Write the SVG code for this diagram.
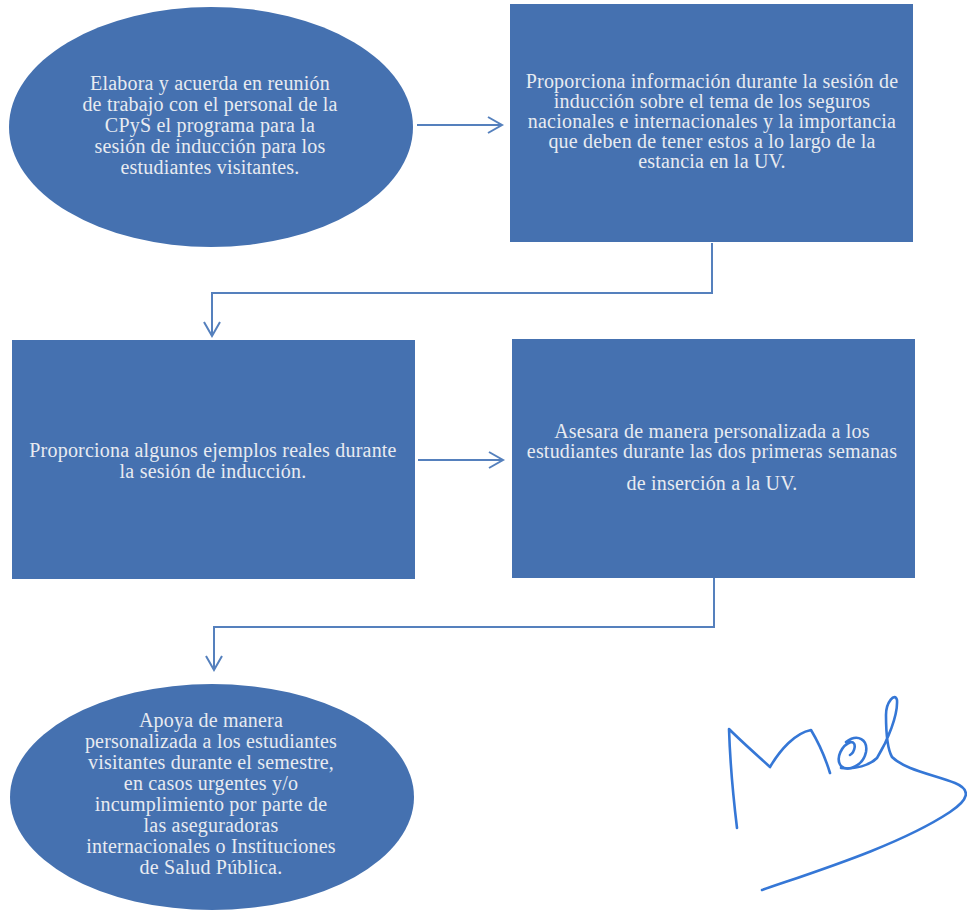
<svg xmlns="http://www.w3.org/2000/svg" width="967" height="914" viewBox="0 0 967 914">
<style>
.shape{fill:#4571b0;}
.lbl{font-family:'Liberation Serif','DejaVu Serif','Times New Roman',serif;font-size:20px;fill:#e8ebf1;text-anchor:middle;letter-spacing:0.2px;}
.conn{fill:none;stroke:#5580bd;stroke-width:2;}
.sig{fill:none;stroke:#3577d6;stroke-width:2.6;stroke-linecap:round;stroke-linejoin:round;}
</style>
<defs>
<marker id="arr" viewBox="0 0 14 16" refX="14" refY="8" markerWidth="14" markerHeight="16" markerUnits="userSpaceOnUse" orient="auto" overflow="visible">
<path d="M0,0 L14,8 L0,16" fill="none" stroke="#5580bd" stroke-width="2"/>
</marker>
</defs>
<rect width="967" height="914" fill="#ffffff"/>
<g id="n1">
<ellipse class="shape" cx="211" cy="127" rx="202" ry="120"/>
<text class="lbl" font-family="Liberation Serif, serif"><tspan x="210" y="90">Elabora y acuerda en reunión</tspan><tspan x="210" y="111">de trabajo con el personal de la</tspan><tspan x="210" y="132">CPyS el programa para la</tspan><tspan x="210" y="153">sesión de inducción para los</tspan><tspan x="210" y="174">estudiantes visitantes.</tspan></text>
</g>
<g id="n2">
<rect class="shape" x="510" y="4" width="403" height="238"/>
<text class="lbl" font-family="Liberation Serif, serif"><tspan x="712" y="88">Proporciona información durante la sesión de</tspan><tspan x="712" y="108">inducción sobre el tema de los seguros</tspan><tspan x="712" y="128">nacionales e internacionales y la importancia</tspan><tspan x="712" y="148">que deben de tener estos a lo largo de la</tspan><tspan x="712" y="168">estancia en la UV.</tspan></text>
</g>
<g id="n3">
<rect class="shape" x="12" y="340" width="403" height="239"/>
<text class="lbl" font-family="Liberation Serif, serif"><tspan x="213" y="457">Proporciona algunos ejemplos reales durante</tspan><tspan x="213" y="478">la sesión de inducción.</tspan></text>
</g>
<g id="n4">
<rect class="shape" x="512" y="339" width="403" height="239"/>
<text class="lbl" font-family="Liberation Serif, serif"><tspan x="712" y="438">Asesara de manera personalizada a los</tspan><tspan x="712" y="458">estudiantes durante las dos primeras semanas</tspan><tspan x="712" y="490">de inserción a la UV.</tspan></text>
</g>
<g id="n5">
<ellipse class="shape" cx="212" cy="797" rx="202" ry="113"/>
<text class="lbl" font-family="Liberation Serif, serif"><tspan x="211" y="727">Apoya de manera</tspan><tspan x="211" y="748">personalizada a los estudiantes</tspan><tspan x="211" y="769">visitantes durante el semestre,</tspan><tspan x="211" y="790">en casos urgentes y/o</tspan><tspan x="211" y="811">incumplimiento por parte de</tspan><tspan x="211" y="832">las aseguradoras</tspan><tspan x="211" y="853">internacionales o Instituciones</tspan><tspan x="211" y="874">de Salud Pública.</tspan></text>
</g>
<g id="connectors">
<path class="conn" d="M417,125 H502" marker-end="url(#arr)"/>
<path class="conn" d="M712,243 V293 H212 V336" marker-end="url(#arr)"/>
<path class="conn" d="M418,460 H503" marker-end="url(#arr)"/>
<path class="conn" d="M714,578 V627 H214 V670" marker-end="url(#arr)"/>
</g>
<g id="signature">
<path class="sig" d="M737,828 C733,795 730,760 729,729 C742,742 758,756 770,767 C780,750 795,733 811,730 C820,745 826,760 830,773"/>
<path class="sig" d="M846,742 C858,733 868,740 866,752 C863,766 848,772 841,766 C835,758 842,745 851,742 C857,742 855,752 850,755"/>
<path class="sig" d="M841,768 C855,770 870,765 877,758 C888,740 898,715 897,700 C895,692 886,702 886,715 C886,735 888,750 892,757 C905,770 935,775 955,783 C972,790 968,800 950,812 C900,845 820,870 762,890"/>
</g>
</svg>
